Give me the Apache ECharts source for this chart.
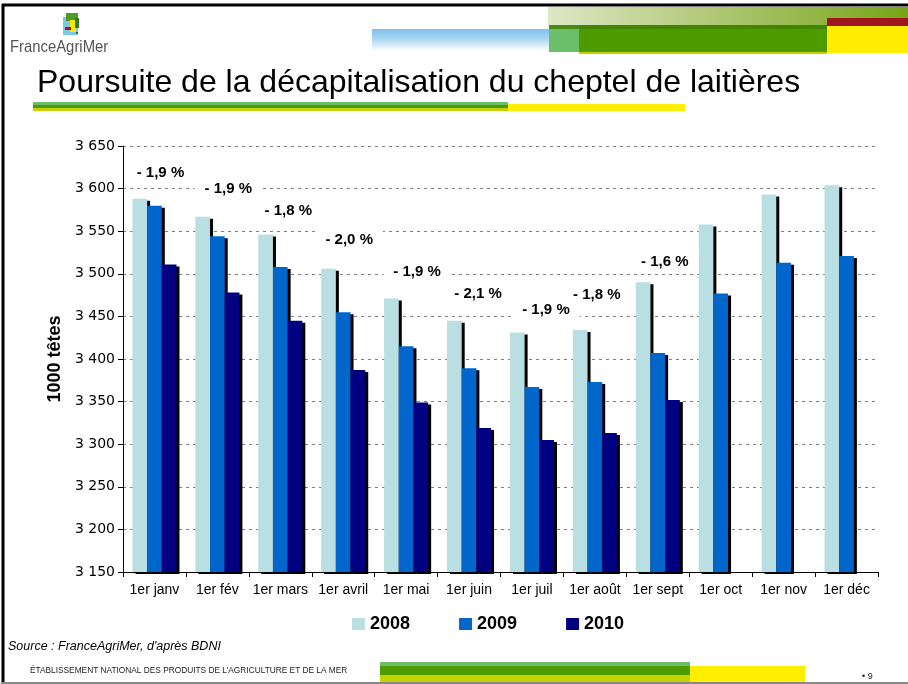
<!DOCTYPE html>
<html>
<head>
<meta charset="utf-8">
<script src="https://cdn.jsdelivr.net/npm/echarts@6/dist/echarts.min.js"></script>
<style>
html,body{margin:0;padding:0;background:#fff;}
#chart{width:908px;height:684px;}
</style>
</head>
<body>
<div id="chart"></div>
<script>
// ---- data ----
const months = ['1er janv','1er fév','1er mars','1er avril','1er mai','1er juin','1er juil','1er août','1er sept','1er oct','1er nov','1er déc'];
const seriesNames = ['2008','2009','2010'];
const v2008 = [3588, 3567, 3546, 3506, 3471, 3445, 3431, 3434, 3490, 3558, 3593, 3604];
const v2009 = [3580, 3544, 3508, 3455, 3415, 3389, 3367, 3373, 3407, 3477, 3513, 3521];
const v2010 = [3511, 3478, 3445, 3387, 3349, 3319, 3305, 3313, 3352, null, null, null];
const changeLabels = ['- 1,9 %','- 1,9 %','- 1,8 %','- 2,0 %','- 1,9 %','- 2,1 %','- 1,9 %','- 1,8 %','- 1,6 %'];
const yMin = 3150, yMax = 3650, yStep = 50;

// ---- styles ----
const colors = ['#b9dfe3', '#0066cc', '#000080'];
const labelOffsets = [[6,-26],[11,-28],[8,-24],[6,-29],[11,-27],[9,-27],[14,-23],[2,-35],[7,-20]];
const ARIAL = 'Liberation Sans, Arial, sans-serif';

function fmt(v){ const t = Math.floor(v/1000); const r = String(v%1000).padStart(3,'0'); return t + ' ' + r; }

const chart = echarts.init(document.getElementById('chart'), null, {renderer:'canvas'});

const barSeries = [v2008, v2009, v2010].map((vals, i) => ({
  name: seriesNames[i],
  type: 'bar',
  data: vals,
  barGap: '0%',
  barCategoryGap: '30%',
  itemStyle: { color: colors[i], shadowColor: '#000', shadowBlur: 0, shadowOffsetX: 3, shadowOffsetY: 2 },
  emphasis: { disabled: true },
  z: 2 + i
}));

const labelSeries = {
  type: 'scatter',
  symbolSize: 1,
  itemStyle: { color: 'rgba(0,0,0,0)', opacity: 1 },
  silent: true,
  z: 10,
  data: changeLabels.map((t, i) => ({
    value: [i, v2008[i]],
    label: { offset: labelOffsets[i] }
  })),
  label: {
    show: true,
    position: 'inside',
    formatter: p => changeLabels[p.dataIndex],
    fontFamily: ARIAL,
    fontWeight: 'bold',
    fontSize: 15,
    color: '#000',
    opacity: 1,
    backgroundColor: '#fff',
    padding: [4, 10]
  }
};

const G = [];
// frame
G.push({type:'line', shape:{x1:2,y1:5,x2:908,y2:5}, style:{stroke:'#000', lineWidth:3}, z:50});
G.push({type:'line', shape:{x1:3,y1:4,x2:3,y2:684}, style:{stroke:'#000', lineWidth:3}, z:50});
G.push({type:'line', shape:{x1:2,y1:683,x2:908,y2:683}, style:{stroke:'#888', lineWidth:2}, z:50});
// header banner
G.push({type:'rect', shape:{x:372,y:29,width:177,height:22}, style:{fill:new echarts.graphic.LinearGradient(0,0,0,1,[{offset:0,color:'#7fc0ec'},{offset:0.45,color:'#aad6f2'},{offset:1,color:'#ffffff'}])}, z:1});
G.push({type:'rect', shape:{x:548,y:7,width:360,height:19}, style:{fill:new echarts.graphic.LinearGradient(0,0,1,0,[{offset:0,color:'#dfe7c6'},{offset:1,color:'#78a417'}])}, z:1});
G.push({type:'rect', shape:{x:827,y:18,width:81,height:8}, style:{fill:'#a0161d'}, z:2});
G.push({type:'rect', shape:{x:549,y:25,width:30,height:27}, style:{fill:'#6cbf6a'}, z:2});
G.push({type:'rect', shape:{x:579,y:51,width:248,height:3}, style:{fill:'#c5d200'}, z:2});
G.push({type:'rect', shape:{x:579,y:25,width:248,height:27}, style:{fill:'#4e9b00'}, z:2});
G.push({type:'rect', shape:{x:549,y:25,width:278,height:4}, style:{fill:'#3f7f00', opacity:0.8}, z:3});
G.push({type:'rect', shape:{x:827,y:26,width:81,height:27}, style:{fill:'#ffec00'}, z:2});
// logo
G.push({type:'rect', shape:{x:63,y:17,width:15,height:18}, style:{fill:'#7cc6e8'}, z:2});
G.push({type:'rect', shape:{x:66,y:13,width:12,height:8}, style:{fill:'#4e9b2a'}, z:3});
G.push({type:'rect', shape:{x:70,y:20,width:6,height:12}, style:{fill:'#ffe600'}, z:3});
G.push({type:'rect', shape:{x:75,y:18,width:4,height:10}, style:{fill:'#2f7d1f'}, z:3});
G.push({type:'rect', shape:{x:65,y:27,width:6,height:3}, style:{fill:'#9b1b1e'}, z:3});
G.push({type:'rect', shape:{x:76,y:32,width:2,height:2}, style:{fill:'#2f7d1f'}, z:3});
G.push({type:'text', x:10, y:47, scaleX:0.9, style:{x:0, y:0, text:'FranceAgriMer', font:'16.5px ' + ARIAL, fill:'#555', textVerticalAlign:'middle'}, z:3});
// title
G.push({type:'text', style:{x:37, y:83, text:'Poursuite de la décapitalisation du cheptel de laitières', font:'32px ' + ARIAL, fill:'#000', textVerticalAlign:'middle'}, z:3});
G.push({type:'rect', shape:{x:33,y:102,width:475,height:3}, style:{fill:'#6cbf6a'}, z:2});
G.push({type:'rect', shape:{x:33,y:105,width:475,height:3}, style:{fill:'#4e9b00'}, z:2});
G.push({type:'rect', shape:{x:33,y:108,width:475,height:3}, style:{fill:'#c5d200'}, z:2});
G.push({type:'rect', shape:{x:508,y:104,width:177,height:7}, style:{fill:'#ffee00'}, z:2});
// source & footer
G.push({type:'text', style:{x:8, y:647, text:"Source : FranceAgriMer, d'après BDNI", font:'italic 12.5px ' + ARIAL, fill:'#000', textVerticalAlign:'middle'}, z:3});
G.push({type:'text', x:30, y:670, scaleX:0.875, style:{x:0, y:0, text:"ÉTABLISSEMENT NATIONAL DES PRODUITS DE L’AGRICULTURE ET DE LA MER", font:'9.5px ' + ARIAL, fill:'#222', textVerticalAlign:'middle'}, z:3});
G.push({type:'rect', shape:{x:380,y:662,width:310,height:4}, style:{fill:'#6cbf6a'}, z:2});
G.push({type:'rect', shape:{x:380,y:666,width:310,height:9}, style:{fill:'#4e9b00'}, z:2});
G.push({type:'rect', shape:{x:380,y:675,width:310,height:9}, style:{fill:'#c5d200'}, z:2});
G.push({type:'rect', shape:{x:690,y:666,width:115,height:18}, style:{fill:'#ffee00'}, z:2});
G.push({type:'text', style:{x:862, y:677, text:'• 9', font:'9px ' + ARIAL, fill:'#222', textVerticalAlign:'middle'}, z:3});

chart.setOption({
  animation: false,
  backgroundColor: '#fff',
  grid: { left: 123, right: 30, top: 146, bottom: 112, containLabel: false },
  legend: {
    data: seriesNames,
    left: 352,
    top: 615,
    padding: 0,
    icon: 'rect',
    itemWidth: 13,
    itemHeight: 12,
    itemGap: 49,
    textStyle: { fontFamily: ARIAL, fontWeight: 'bold', fontSize: 18, color: '#000' },
    selectedMode: false
  },
  xAxis: {
    type: 'category',
    data: months,
    axisLine: { lineStyle: { color: '#000', width: 1 } },
    axisTick: { show: true, length: 5, lineStyle: { color: '#000' } },
    axisLabel: { fontFamily: ARIAL, fontSize: 14, color: '#000', margin: 11, interval: 0 },
    splitLine: { show: false }
  },
  yAxis: {
    type: 'value',
    min: yMin, max: yMax, interval: yStep,
    name: '1000 têtes',
    nameLocation: 'middle',
    nameRotate: 90,
    nameGap: 58,
    nameTextStyle: { fontFamily: ARIAL, fontWeight: 'bold', fontSize: 18, color: '#000' },
    axisLine: { show: true, lineStyle: { color: '#000', width: 1 } },
    axisTick: { show: true, length: 5, lineStyle: { color: '#000' } },
    axisLabel: { formatter: fmt, fontFamily: 'DejaVu Sans, sans-serif', fontSize: 14, color: '#000', margin: 8 },
    splitLine: { show: true, lineStyle: { color: '#808080', type: [3, 4], width: 1 } }
  },
  graphic: { elements: G },
  series: [...barSeries, labelSeries]
});
</script>
</body>
</html>
